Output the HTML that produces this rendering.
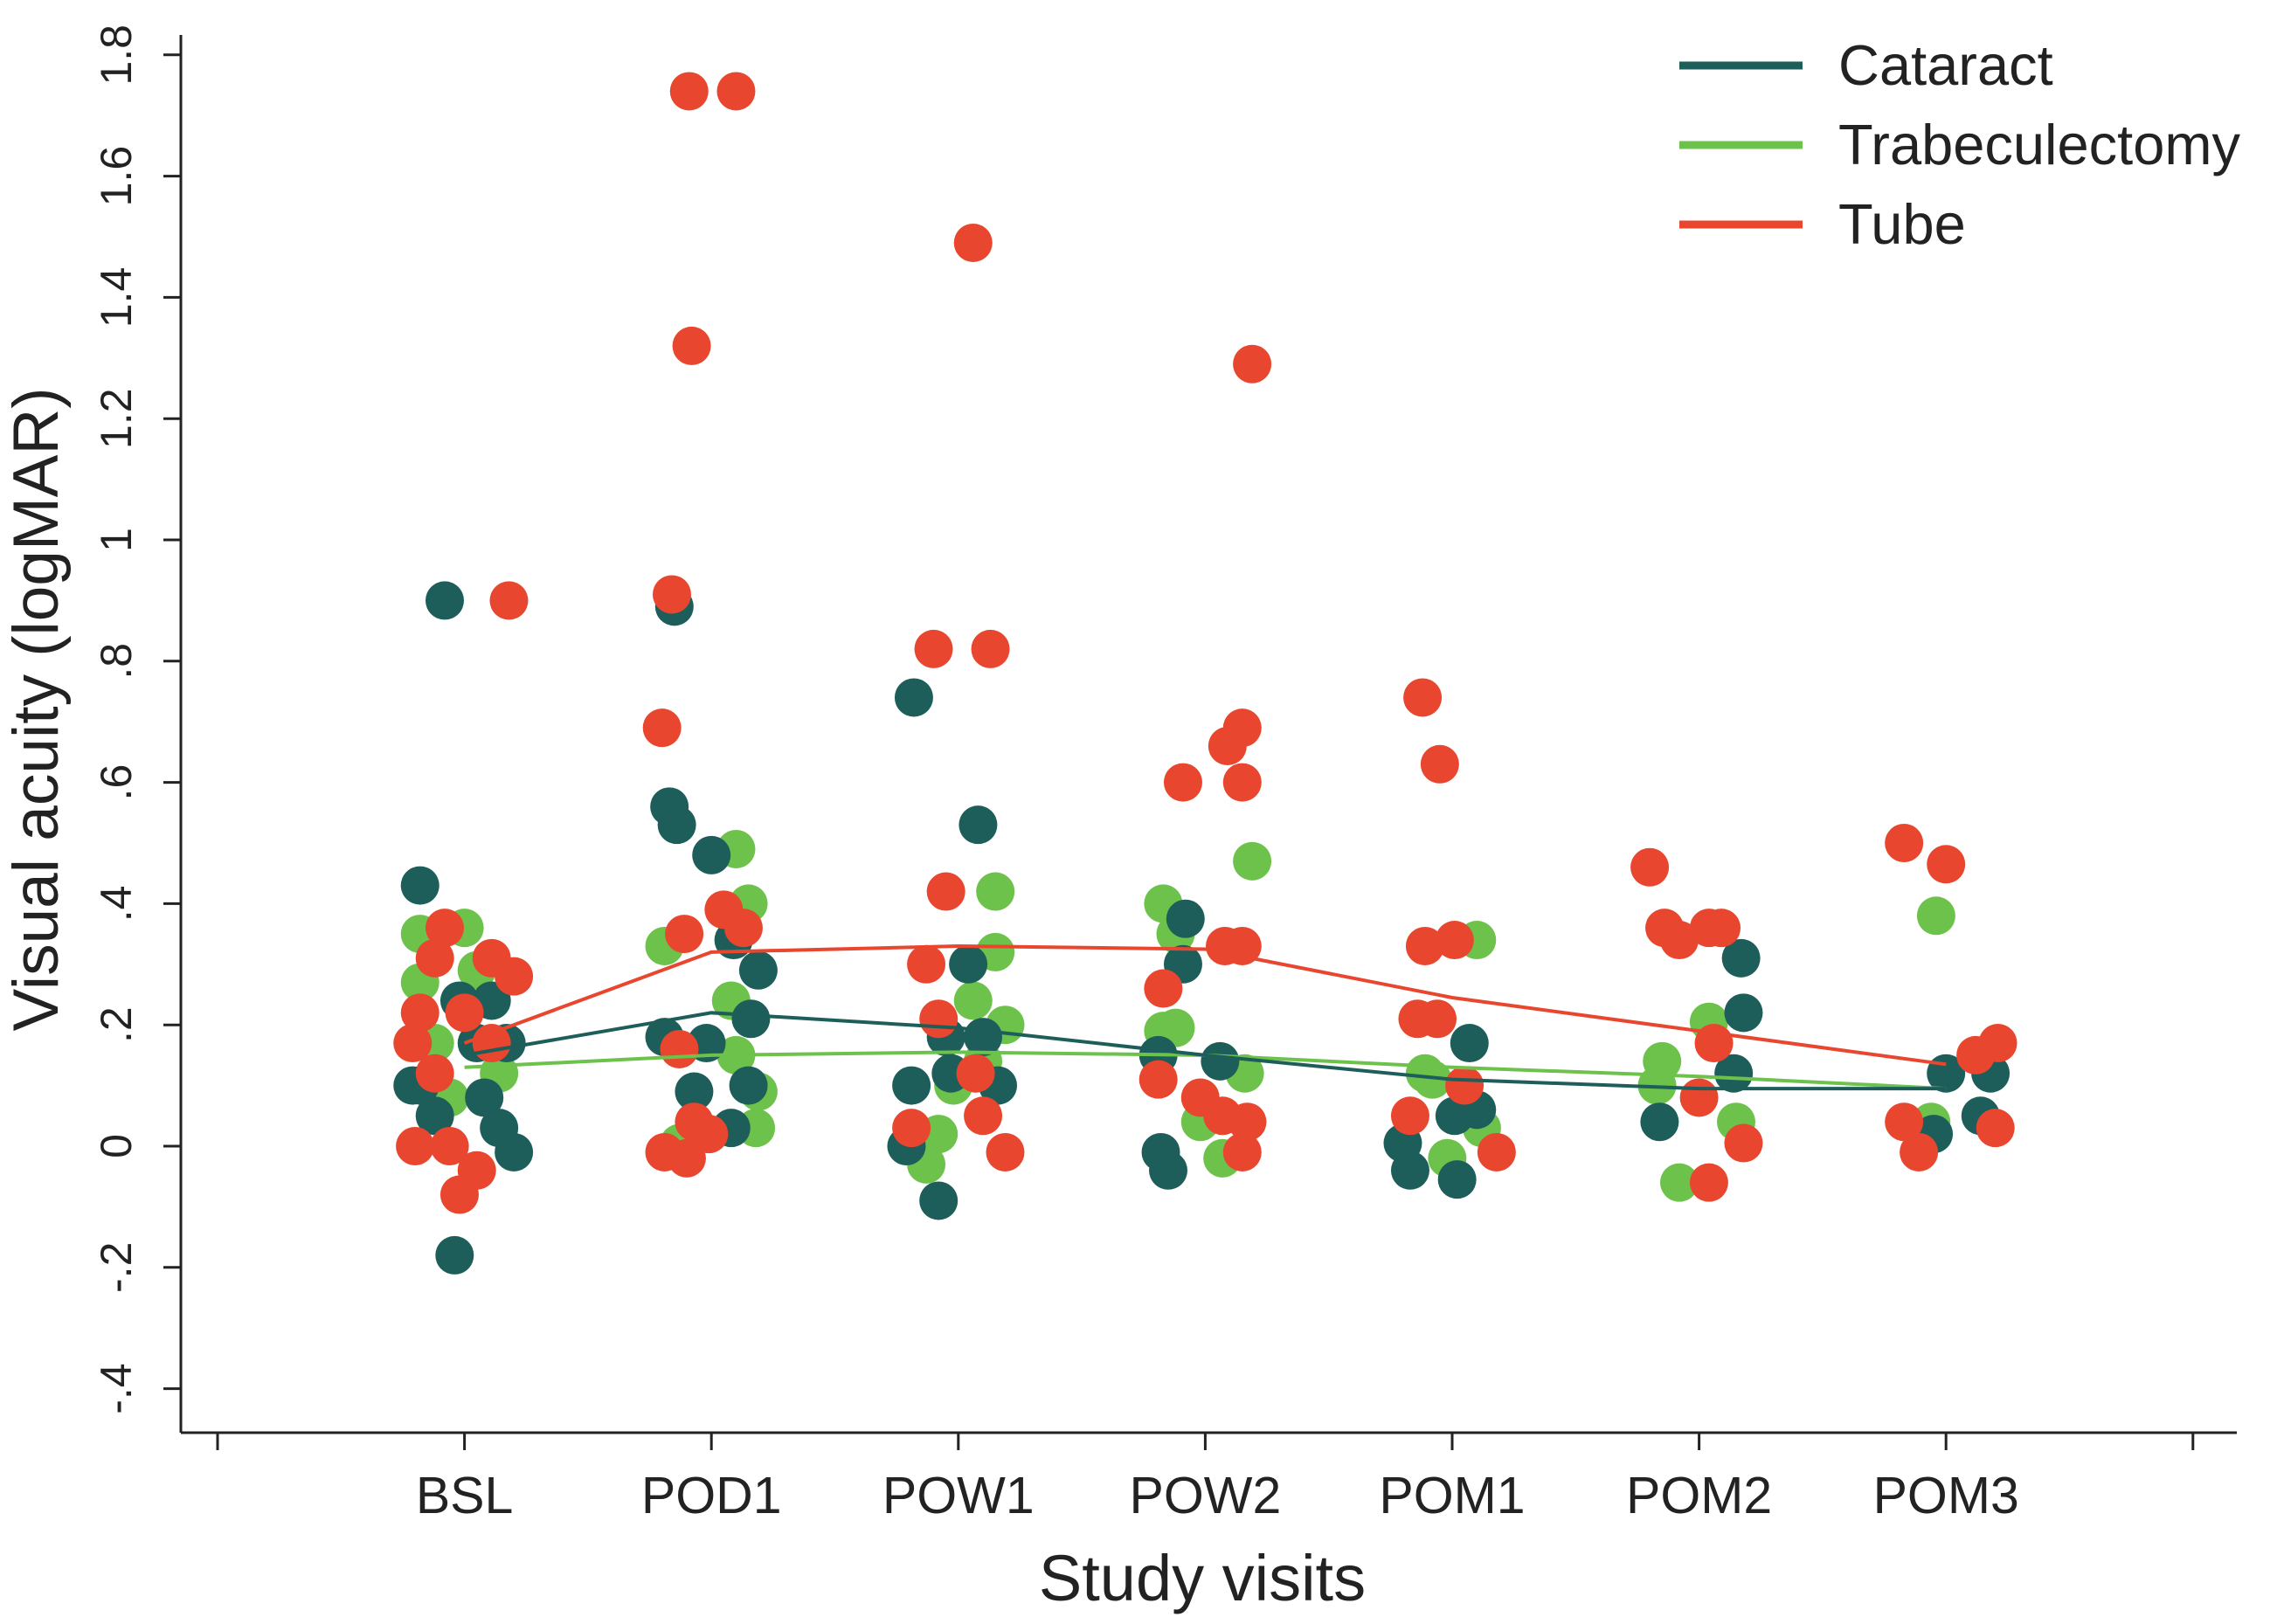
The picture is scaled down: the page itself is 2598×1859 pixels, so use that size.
<!DOCTYPE html>
<html><head><meta charset="utf-8">
<style>
html,body{margin:0;padding:0;background:#fff;}
svg{display:block;font-family:"Liberation Sans",Arial,sans-serif;}
</style></head>
<body>
<svg id="chart" width="2598" height="1859" viewBox="0 0 2598 1859" xmlns="http://www.w3.org/2000/svg">
<rect width="2598" height="1859" fill="#fff"/>
</svg>
<script>
const categories = ["BSL","POD1","POW1","POW2","POM1","POM2","POM3"];
const yTicks = [-0.4,-0.2,0,0.2,0.4,0.6,0.8,1,1.2,1.4,1.6,1.8];
const yTickLabels = ["-.4","-.2","0",".2",".4",".6",".8","1","1.2","1.4","1.6","1.8"];
const seriesNames = ["Cataract","Trabeculectomy","Tube"];
const cataractMeans = [0.15,0.22,0.195,0.15,0.11,0.095,0.095];
const trabMeans = [0.13,0.15,0.155,0.15,0.13,0.115,0.095];
const tubeMeans = [0.17,0.32,0.33,0.325,0.245,0.19,0.135];
// points: [category index, jitter offset (category units), value]
const cataractPts = [
[0,-0.08,0.90],[0,-0.18,0.43],[0,-0.04,-0.18],[0,-0.18,0.10],[0,-0.12,0.05],[0,-0.02,0.24],[0,0.11,0.24],[0,0.05,0.17],[0,0.17,0.17],[0,0.2,-0.01],[0,0.14,0.03],[0,-0.21,0.10],[0,0.08,0.08],
[1,-0.15,0.89],[1,-0.17,0.56],[1,-0.14,0.53],[1,0,0.48],[1,0.09,0.34],[1,0.19,0.29],[1,-0.19,0.18],[1,-0.02,0.17],[1,0.16,0.21],[1,-0.07,0.09],[1,0.15,0.10],[1,0.08,0.03],
[2,-0.18,0.74],[2,0.08,0.53],[2,0.04,0.30],[2,-0.05,0.18],[2,0.16,0.10],[2,-0.19,0.10],[2,-0.08,-0.09],[2,-0.21,0.0],[2,-0.03,0.12],[2,0.1,0.18],
[3,-0.08,0.375],[3,-0.09,0.30],[3,-0.18,-0.01],[3,-0.15,-0.04],[3,0.06,0.14],[3,-0.19,0.15],
[4,0.07,0.17],[4,-0.2,0.005],[4,-0.17,-0.04],[4,0.02,-0.055],[4,0.01,0.05],[4,0.1,0.06],
[5,0.17,0.31],[5,0.18,0.22],[5,0.14,0.12],[5,-0.16,0.04],
[6,0,0.12],[6,-0.05,0.02],[6,0.14,0.05],[6,0.18,0.12]
];
const trabPts = [
[0,-0.18,0.35],[0,0,0.36],[0,-0.18,0.27],[0,-0.12,0.17],[0,0.05,0.29],[0,-0.06,0.08],[0,0.14,0.12],
[1,0.1,0.49],[1,0.15,0.40],[1,-0.19,0.33],[1,0.08,0.24],[1,-0.13,0.005],[1,0.19,0.09],[1,0.18,0.03],[1,0.1,0.15],
[2,0.15,0.42],[2,0.15,0.32],[2,0.06,0.24],[2,0.19,0.20],[2,-0.02,0.10],[2,-0.13,-0.03],[2,-0.08,0.02],[2,0.1,0.14],
[3,0.19,0.47],[3,-0.17,0.40],[3,-0.12,0.35],[3,-0.17,0.19],[3,0.07,-0.02],[3,-0.02,0.04],[3,0.16,0.12],[3,-0.12,0.195],
[4,0.1,0.34],[4,-0.08,0.11],[4,-0.02,-0.02],[4,-0.11,0.12],[4,0.12,0.03],
[5,0.04,0.205],[5,-0.15,0.14],[5,-0.17,0.10],[5,-0.08,-0.06],[5,0.15,0.04],
[6,-0.04,0.38],[6,-0.06,0.04]
];
const tubePts = [
[0,0.18,0.90],[0,-0.08,0.36],[0,-0.12,0.31],[0,0.11,0.31],[0,0.2,0.28],[0,-0.21,0.17],[0,-0.12,0.12],[0,0,0.22],[0,-0.2,0.0],[0,-0.06,0.0],[0,-0.02,-0.08],[0,0.05,-0.04],[0,0.11,0.17],[0,-0.18,0.22],
[1,-0.09,1.74],[1,0.1,1.74],[1,-0.08,1.32],[1,-0.16,0.91],[1,-0.2,0.69],[1,-0.11,0.35],[1,0.05,0.39],[1,0.13,0.36],[1,-0.13,0.16],[1,-0.19,-0.01],[1,-0.1,-0.02],[1,-0.01,0.02],[1,-0.07,0.04],
[2,0.06,1.49],[2,-0.1,0.82],[2,0.13,0.82],[2,-0.05,0.42],[2,-0.13,0.30],[2,-0.08,0.21],[2,0.1,0.05],[2,0.19,-0.01],[2,-0.19,0.03],[2,0.07,0.12],
[3,0.19,1.29],[3,0.15,0.69],[3,0.09,0.66],[3,0.15,0.60],[3,-0.09,0.60],[3,-0.17,0.26],[3,0.08,0.33],[3,0.15,0.33],[3,-0.19,0.11],[3,-0.02,0.08],[3,0.07,0.05],[3,0.15,-0.01],[3,0.17,0.04],
[4,-0.12,0.74],[4,-0.05,0.63],[4,-0.11,0.33],[4,0.01,0.34],[4,-0.14,0.21],[4,-0.06,0.21],[4,-0.17,0.05],[4,0.18,-0.01],[4,0.05,0.10],
[5,-0.2,0.46],[5,-0.14,0.36],[5,-0.08,0.34],[5,0.04,0.36],[5,0.09,0.36],[5,0,0.08],[5,0.04,-0.06],[5,0.18,0.005],[5,0.06,0.17],
[6,-0.17,0.50],[6,0,0.465],[6,0.21,0.17],[6,0.12,0.15],[6,-0.17,0.04],[6,-0.11,-0.01],[6,0.2,0.03]
];

const NS="http://www.w3.org/2000/svg";
const svg=document.getElementById('chart');
const AX=207, Y0=1312, PXU=694, XBASE=249, XSTEP=282.6, XAXISY=1640;
const xs=(c,o)=>XBASE+(c+1+(o||0))*XSTEP;
const ys=v=>Y0-v*PXU;
const C={Cataract:"#1e5e5a",Trabeculectomy:"#6cc24a",Tube:"#e8462e"};
function mk(tag,attrs,parent){const e=document.createElementNS(NS,tag);for(const k in attrs)e.setAttribute(k,attrs[k]);(parent||svg).appendChild(e);return e;}

const yAxis=mk('line',{x1:AX,x2:AX,y1:40,y2:XAXISY,stroke:"#222","stroke-width":3});


const xAxis=mk('line',{x1:AX,x2:2560,y1:XAXISY,y2:XAXISY,stroke:"#222","stroke-width":3});



yTicks.forEach((t,i)=>{
  const y=ys(t);
  const tk=mk('line',{x1:AX-20,x2:AX,y1:y,y2:y,stroke:"#222","stroke-width":3});
  
  
  const tx=mk('text',{x:0,y:0,transform:`translate(150,${y}) rotate(-90)`,"text-anchor":"middle","font-size":50,fill:"#222"});
  tx.textContent=yTickLabels[i];
  
  
});
for(let i=0;i<=categories.length+1;i++){
  const x=XBASE+i*XSTEP;
  const tk=mk('line',{x1:x,x2:x,y1:XAXISY,y2:XAXISY+20,stroke:"#222","stroke-width":3});
  
  
}
categories.forEach((c,i)=>{
  const tx=mk('text',{x:xs(i,0),y:1732,"text-anchor":"middle","font-size":59,fill:"#222"});
  tx.textContent=c;
  
  
});
const yt=mk('text',{x:0,y:0,transform:"translate(66,812) rotate(-90)","text-anchor":"middle","font-size":73,fill:"#222"});
yt.textContent="Visual acuity (logMAR)";


const xt=mk('text',{x:1376,y:1832,"text-anchor":"middle","font-size":74,fill:"#222"});
xt.textContent="Study visits";



function dots(pts,col,name){
  pts.forEach(p=>{
    const d=mk('circle',{cx:xs(p[0],p[1]),cy:ys(p[2]),r:22,fill:col});
    
    
  });
}
dots(trabPts,C.Trabeculectomy,'trabeculectomy-point');
dots(cataractPts,C.Cataract,'cataract-point');
dots(tubePts,C.Tube,'tube-point');

function line(means,col,name){
  const pts=means.map((v,i)=>xs(i,0)+","+ys(v)).join(" ");
  const l=mk('polyline',{points:pts,fill:"none",stroke:col,"stroke-width":4});
  
  
}
line(trabMeans,C.Trabeculectomy,'trabeculectomy-mean-line');
line(cataractMeans,C.Cataract,'cataract-mean-line');
line(tubeMeans,C.Tube,'tube-mean-line');

seriesNames.forEach((n,i)=>{
  const y=75+i*91;
  const l=mk('line',{x1:1922,x2:2063,y1:y,y2:y,stroke:C[n],"stroke-width":9});
  
  
  const t=mk('text',{x:2104,y:y+22,"font-size":65,fill:"#222"});
  t.textContent=n;
  
  
});
</script>
</body></html>
